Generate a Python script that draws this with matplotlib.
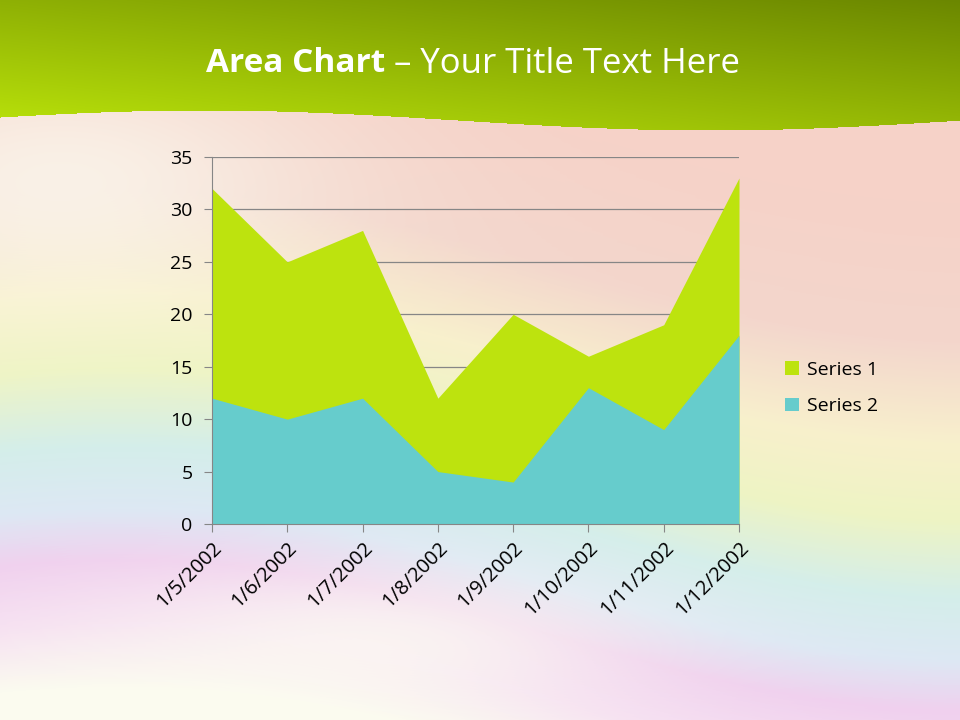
import numpy as np
import matplotlib
matplotlib.use("Agg")
import matplotlib.pyplot as plt
from matplotlib.colors import LinearSegmentedColormap

# chart data
dates = ['1/5/2002', '1/6/2002', '1/7/2002', '1/8/2002',
         '1/9/2002', '1/10/2002', '1/11/2002', '1/12/2002']
series1 = [32, 25, 28, 12, 20, 16, 19, 33]
series2 = [12, 10, 12, 5, 4, 13, 9, 18]
yticks = [0, 5, 10, 15, 20, 25, 30, 35]

plt.rcParams['font.family'] = ['Open Sans', 'DejaVu Sans']

W, H = 960, 720
fig = plt.figure(figsize=(9.6, 7.2), dpi=100)

# --- background: pastel waves + green header ---
xx, yy = np.meshgrid(np.arange(W), np.arange(H))
s = yy + 45 * np.sin(xx / W * 2 * np.pi * 0.7 + 0.6) - 0.08 * xx
band = LinearSegmentedColormap.from_list('bands', [
    (0.00, '#f6d2c8'), (0.22, '#f3d6cc'), (0.38, '#f8f0cc'),
    (0.50, '#eef4c4'), (0.62, '#d4eeea'), (0.72, '#dde8f4'),
    (0.80, '#f0d0ee'), (0.90, '#f6e0f2'), (1.00, '#fbfbef')])
bg = band(np.clip((s - 80) / 640, 0, 1))[..., :3]
# pale highlight top-left and bottom-left
glow = np.exp(-(((xx - 60) / 260.0) ** 2 + ((yy - 180) / 120.0) ** 2))
glow2 = np.exp(-(((xx - 380) / 260.0) ** 2 + ((yy - 640) / 70.0) ** 2))
g = np.clip(glow + glow2, 0, 1)[..., None]
bg = bg * (1 - 0.7 * g) + np.array([0.99, 0.99, 0.95]) * 0.7 * g

edge = 120 - 10 * np.sin(xx / W * 2 * np.pi * 0.95 + 0.3)
header = yy < edge
t = np.clip(0.55 * (1 - yy / 130.0) + 0.45 * (xx / W), 0, 1)
c0 = np.array([0.73, 0.89, 0.04])
c1 = np.array([0.42, 0.53, 0.0])
hdr = c0 * (1 - t[..., None]) + c1 * t[..., None]
bg[header] = hdr[header]

bax = fig.add_axes([0, 0, 1, 1])
bax.imshow(bg, aspect='auto', extent=(0, W, H, 0))
bax.set_axis_off()

# title: bold part followed by regular part
t1 = fig.text(206 / W, 1 - 64 / H, 'Area Chart', color='white', fontsize=24,
              fontweight='bold', ha='left', va='center')
fig.canvas.draw()
bb = t1.get_window_extent()
fig.text(bb.x1 / W, 1 - 64 / H, ' \u2013 Your Title Text Here', color='white',
         fontsize=25, ha='left', va='center')

# --- chart ---
ax = fig.add_axes([212 / W, 1 - 524 / H, (739 - 212) / W, (524 - 157) / H])
ax.patch.set_alpha(0)
x = np.arange(len(dates))
ax.fill_between(x, 0, series1, color='#bde30e', lw=0, label='Series 1', zorder=2)
ax.fill_between(x, 0, series2, color='#66cccc', lw=0, label='Series 2', zorder=3)

ax.set_xlim(0, len(dates) - 1)
ax.set_ylim(0, 35)
ax.set_yticks(yticks)
ax.set_xticks(x)
ax.set_xticklabels(dates, rotation=45, ha='right', va='top',
                   rotation_mode='anchor', fontsize=14.5)
ax.tick_params(axis='y', labelsize=14, length=6, color='#868686', pad=8)
ax.tick_params(axis='x', length=6, color='#868686', pad=4)
ax.grid(axis='y', color='#868686', lw=0.9, zorder=1)
ax.set_axisbelow(True)
for side in ['top', 'right']:
    ax.spines[side].set_visible(False)
for side in ['left', 'bottom']:
    ax.spines[side].set_color('#868686')
    ax.spines[side].set_zorder(4)

ax.legend(loc='center left', bbox_to_anchor=(1.055, 0.37), frameon=False,
          fontsize=14, handlelength=0.7, handleheight=0.7,
          handletextpad=0.4, labelspacing=0.95)

fig.savefig('out.png', dpi=100)
